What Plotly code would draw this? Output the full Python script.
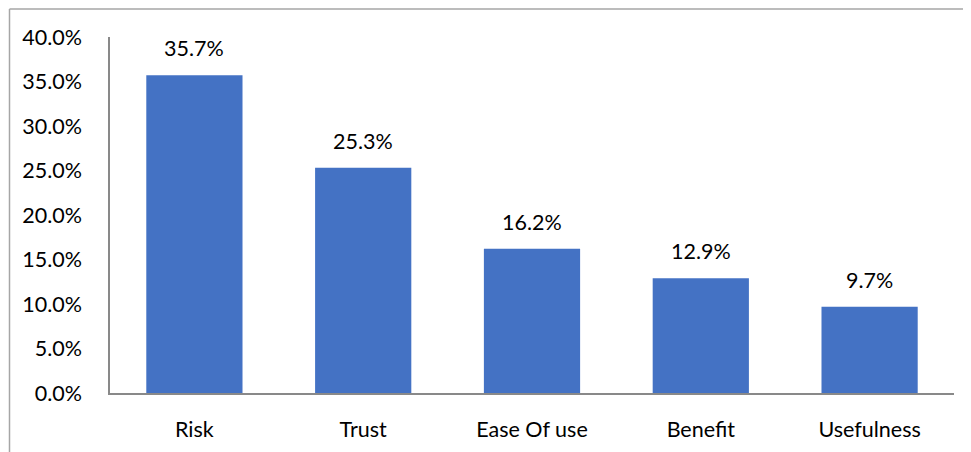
import plotly.graph_objects as go

categories = ["Risk", "Trust", "Ease Of use", "Benefit", "Usefulness"]
values = [35.7, 25.3, 16.2, 12.9, 9.7]
tick_vals = [0, 5, 10, 15, 20, 25, 30, 35, 40]
tick_text = [f"{v:.1f}%" for v in tick_vals]
labels = [f"{v:.1f}%" for v in values]

# page body adds an 8px offset; compensate in margins
OFF = 8
W, H = 971, 452
ml, mt = 110 - OFF, 37 - OFF
plot_right, plot_bottom = 954 - OFF, 393 - OFF
mr, mb = W - plot_right, H - plot_bottom
pw, ph = W - ml - mr, H - mt - mb

FONT = "Lato"
FS = 21.5

fig = go.Figure()
fig.add_trace(go.Bar(
    x=categories, y=values,
    marker=dict(color="#4472C4", line=dict(width=0)),
    width=0.57,
    hoverinfo="x+y",
))

for c, v, t in zip(categories, values, labels):
    fig.add_annotation(x=c, y=v, text=t, showarrow=False, yanchor="bottom",
                       yshift=12, font=dict(size=FS, color="#000000", family=FONT))

# outer chart border (top and left visible)
bx = -(ml - 1.5) / pw
by = 1 + (mt - 1.0) / ph
fig.add_shape(type="line", xref="paper", yref="paper", x0=bx, x1=1.2, y0=by, y1=by,
              line=dict(color="#A6A6A6", width=1.5))
fig.add_shape(type="line", xref="paper", yref="paper", x0=bx, x1=bx, y0=-0.5, y1=by,
              line=dict(color="#A6A6A6", width=1.5))

fig.update_layout(
    width=W, height=H,
    margin=dict(l=ml, r=mr, t=mt, b=mb),
    paper_bgcolor="white", plot_bgcolor="white",
    font=dict(family=FONT, size=FS, color="#000000"),
    showlegend=False,
    xaxis=dict(showline=True, linecolor="#898989", linewidth=1.5, ticks="",
               showgrid=False, ticklabelstandoff=16, range=[-0.5, 4.5]),
    yaxis=dict(range=[0, 40], tickvals=tick_vals, ticktext=tick_text,
               showline=True, linecolor="#898989", linewidth=1.5, ticks="",
               showgrid=False, zeroline=False, ticklabelstandoff=22),
)

fig.write_html("out.html")
